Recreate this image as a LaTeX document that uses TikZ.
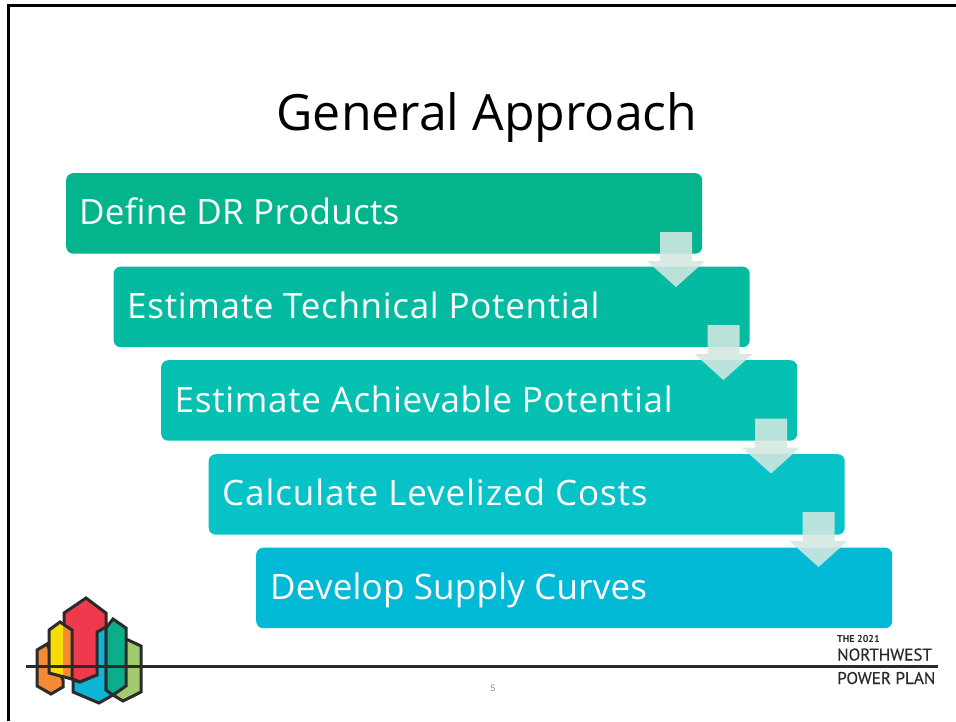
\documentclass[tikz,border=0pt]{standalone}
\usepackage{fontspec}
\setmainfont{Open Sans}
\newfontfamily\brandfont{PT Sans}
\usetikzlibrary{calc}
\definecolor{boxa}{HTML}{04B48C}
\definecolor{boxb}{HTML}{04BBA2}
\definecolor{boxc}{HTML}{06C0B2}
\definecolor{boxd}{HTML}{07C2C6}
\definecolor{boxe}{HTML}{03BAD6}
\definecolor{logored}{HTML}{EE3A4C}
\definecolor{logoyel}{HTML}{F8DC06}
\definecolor{logoora}{HTML}{F58A35}
\definecolor{logoblu}{HTML}{0FB5D6}
\definecolor{logotea}{HTML}{0AAE8A}
\definecolor{logogrn}{HTML}{A2CB6E}
\definecolor{logoink}{HTML}{2B2B2B}
\definecolor{flowtint}{HTML}{D4E8E2}
\tikzset{
  x=1pt,y=-1pt,
  stepbox/.style={fill=#1,rounded corners=7pt,minimum width=636pt,minimum height=80.5pt,inner sep=0pt,anchor=north west},
  steptext/.style={text=white,font=\fontsize{35}{40}\selectfont\addfontfeatures{LetterSpace=#1},anchor=base west,inner sep=0pt},
  flow/.style={fill=flowtint,fill opacity=.88,draw=none},
  logo/.style={draw=logoink,line width=3pt,line join=miter},
  brand/.style={text=logoink,anchor=base west,inner sep=0pt}
}
\newcommand{\flowarrow}[1]{%
  \path[flow] ($(#1)+(-16,0)$) -- ++(32,0) -- ++(0,29) -- ++(13,0) -- ++(-29,26) -- ++(-29,-26) -- ++(13,0) -- cycle;}
\begin{document}
\begin{tikzpicture}
\useasboundingbox (0,0) rectangle (956,721);
\fill[white] (0,0) rectangle (956,721);
\draw[line width=3pt,black] (8,721) -- (8,5) -- (956,5);
\node[text=black,font=\fontsize{50}{60}\selectfont,inner sep=0pt] (title) at (487,118) {General Approach};

\node[stepbox=boxa] (s1) at (66,173) {};
\node[stepbox=boxb] (s2) at (113.5,266.5) {};
\node[stepbox=boxc] (s3) at (161,360) {};
\node[stepbox=boxd] (s4) at (208.5,454) {};
\node[stepbox=boxe] (s5) at (256,547.5) {};
\node[steptext=0.7] (t1) at (79,224) {Define DR Products};
\node[steptext=2] (t2) at (127,318) {Estimate Technical Potential};
\node[steptext=2] (t3) at (174.5,412) {Estimate Achievable Potential};
\node[steptext=2.6] (t4) at (222,505) {Calculate Levelized Costs};
\node[steptext=0.6] (t5) at (270,599) {Develop Supply Curves};

\coordinate (a1) at (676,232);
\coordinate (a2) at (723.5,325);
\coordinate (a3) at (771,418.5);
\coordinate (a4) at (818.5,512);
\flowarrow{a1}\flowarrow{a2}\flowarrow{a3}\flowarrow{a4}

% logo
\draw[logo,fill=logogrn] (126,639) -- (141,646) -- (141,692) -- (123,701) -- (113,695) -- cycle;
\draw[logo,fill=logoora] (37,650) -- (47,644) -- (63,680) -- (63,687) -- (51,694) -- (37,686) -- cycle;
\draw[logo,fill=logored] (86,598) -- (106,613) -- (106,670) -- (97,675) -- (80,682) -- (64,676) -- (64,613) -- cycle;
\draw[logo,fill=logoblu] (97,632) -- (106,627) -- (106,690) -- (113,695) -- (99,703) -- (73,692) -- (73,680) -- (80,682) -- (97,675) -- cycle;
\fill[logoora] (49,630) -- (60,622) -- (72,630) -- (72,679) -- (49,673) -- cycle;
\fill[logoyel] (49,630) -- (60,622) -- (63,624) -- (63,676.5) -- (49,673) -- cycle;
\draw[logo] (72,679) -- (49,673) -- (49,630) -- (60,622) -- (72,630) -- (72,679) -- (80,682);
\draw[logo,fill=logotea] (113,619) -- (126,628) -- (126,686) -- (113,695) -- (106,690) -- (106,628) -- cycle;

\draw[line width=2.4pt,logoink] (26,666.5) -- (938,666.5);
\node[text=gray,font=\fontsize{9}{10}\selectfont,inner sep=0pt] (page) at (493,688) {5};
\node[brand,font=\brandfont\fontsize{10}{11}\selectfont\bfseries] (b1) at (837,642) {THE 2021};
\node[brand,font=\brandfont\fontsize{17}{19}\selectfont\addfontfeatures{FakeBold=0.4}] (b2) at (837,660.5) {NORTHWEST};
\node[brand,font=\brandfont\fontsize{17}{19}\selectfont\addfontfeatures{FakeBold=0.4}] (b3) at (837,684) {POWER PLAN};
\end{tikzpicture}
\end{document}
